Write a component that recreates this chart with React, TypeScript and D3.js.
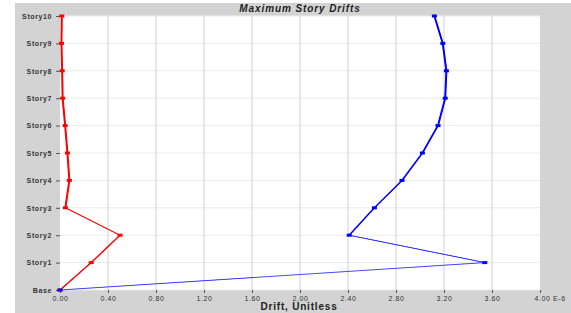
import React, { useEffect, useRef } from "react";
import * as d3 from "d3";

const stories = ["Base", "Story1", "Story2", "Story3", "Story4", "Story5", "Story6", "Story7", "Story8", "Story9", "Story10"];
// drift values in units of 1e-6
const driftX = [0, 0.26, 0.5, 0.045, 0.078, 0.062, 0.043, 0.022, 0.018, 0.012, 0.015];
const driftY = [0, 3.54, 2.41, 2.62, 2.85, 3.02, 3.15, 3.21, 3.22, 3.19, 3.12];
const xTicks = [0, 0.4, 0.8, 1.2, 1.6, 2.0, 2.4, 2.8, 3.2, 3.6, 4.0];

const App = () => {
  const svgRef = useRef<SVGSVGElement>(null);

  useEffect(() => {
    if (!svgRef.current) return;
    const width = 571;
    const height = 313;
    const svg = d3.select(svgRef.current);
    svg.selectAll("*").remove();

    const font = '"Liberation Sans", Arial, sans-serif';

    // gray panel
    svg.append("rect").attr("x", 15).attr("y", 3).attr("width", width - 15).attr("height", height - 3).attr("fill", "#d3d3d3");

    const x = d3.scaleLinear().domain([0, 4]).range([60, 540]);
    const y = d3.scalePoint<string>().domain(stories).range([290, 16]);

    // plot area
    svg.append("rect").attr("x", 60).attr("y", 16).attr("width", 480).attr("height", 274).attr("fill", "#fff");

    // grid
    svg.append("g").selectAll("line").data(stories).join("line")
      .attr("x1", 60).attr("x2", 540)
      .attr("y1", (d) => y(d)!).attr("y2", (d) => y(d)!)
      .attr("stroke", "#ececec").attr("stroke-width", 1);
    svg.append("g").selectAll("line").data(xTicks.slice(1, -1)).join("line")
      .attr("x1", (d) => x(d)).attr("x2", (d) => x(d))
      .attr("y1", 16).attr("y2", 290)
      .attr("stroke", "#d0d0d0").attr("stroke-width", 1);

    // y axis
    const yAxis = svg.append("g").attr("transform", "translate(60,0)")
      .call(d3.axisLeft(y).tickSize(4).tickPadding(4));
    yAxis.select(".domain").remove();
    yAxis.selectAll("line").attr("stroke", "#555");
    yAxis.selectAll("text")
      .attr("fill", "#333").style("font-family", font).style("font-size", "7px")
      .style("font-weight", "bold").style("letter-spacing", "0.6px");

    // x axis
    const xAxis = svg.append("g").attr("transform", "translate(0,290)")
      .call(d3.axisBottom(x).tickValues(xTicks).tickSize(3).tickPadding(3)
        .tickFormat((d) => (+d === 4 ? "4.00 E-6" : d3.format(".2f")(+d))));
    xAxis.select(".domain").remove();
    xAxis.selectAll("line").attr("stroke", "#555");
    xAxis.selectAll("text")
      .attr("fill", "#333").style("font-family", font).style("font-size", "7px")
      .style("letter-spacing", "0.6px");
    xAxis.selectAll<SVGTextElement, number>("text")
      .filter((d) => d === 4)
      .attr("text-anchor", "start").attr("dx", -6);

    // title
    svg.append("text").attr("x", 300).attr("y", 11.5).attr("text-anchor", "middle")
      .style("font-family", font).style("font-size", "10px").style("font-weight", "bold")
      .style("font-style", "italic").style("letter-spacing", "0.9px").attr("fill", "#222")
      .text("Maximum Story Drifts");

    // axis title
    svg.append("text").attr("x", 299).attr("y", 310).attr("text-anchor", "middle")
      .style("font-family", font).style("font-size", "10px").style("font-weight", "bold")
      .style("letter-spacing", "0.8px").attr("fill", "#222")
      .text("Drift, Unitless");

    const series = [
      { values: driftX, color: "#ff0000", light: "#ff5050" },
      { values: driftY, color: "#0000ff", light: "#5050ff" },
    ];

    series.forEach((s) => {
      const pts = stories.map((st, i) => ({ st, v: s.values[i] }));
      // thin base line so shallow segments stay visible
      const line = d3.line<{ st: string; v: number }>()
        .x((d) => x(d.v))
        .y((d) => y(d.st)!);
      svg.append("path").datum(pts).attr("d", line)
        .attr("fill", "none").attr("stroke", s.light).attr("stroke-width", 1);
      // line thickened horizontally, like the source plot
      const band = d3.area<{ st: string; v: number }>()
        .x0((d) => x(d.v) - 1)
        .x1((d) => x(d.v) + 1)
        .y((d) => y(d.st)!);
      svg.append("path").datum(pts).attr("d", band).attr("fill", s.color);

      svg.append("g").selectAll("rect").data(pts).join("rect")
        .attr("x", (d) => x(d.v) - 2.5).attr("y", (d) => y(d.st)! - 1.5)
        .attr("width", 5).attr("height", 3).attr("fill", s.color);
    });
  }, []);

  return (
    <div style={{ position: "absolute", left: 0, top: 0 }}>
      <svg ref={svgRef} width={571} height={313} style={{ display: "block" }}></svg>
    </div>
  );
};

export default App;
